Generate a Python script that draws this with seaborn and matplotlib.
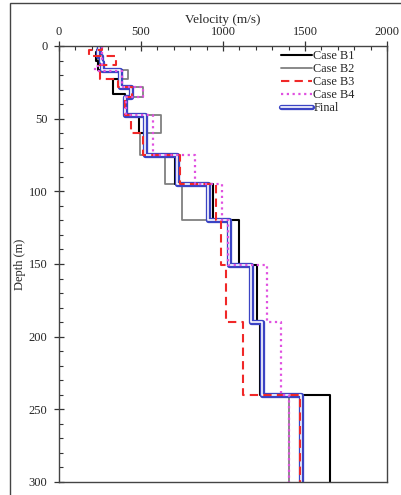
import numpy as np
import pandas as pd
import seaborn as sns
import matplotlib
matplotlib.use("Agg")
import matplotlib.pyplot as plt
import matplotlib.patheffects as pe
from matplotlib.patches import Rectangle
from matplotlib.ticker import MultipleLocator

# layer tops (m) and velocities (m/s); every profile ends at 300 m
max_depth = 300

b1_tops = [0, 4, 10, 16.5, 23, 33, 47.5, 60, 75, 95, 120, 151, 190, 240]
b1_vel = [240, 225, 240, 385, 330, 400, 490, 525, 710, 940, 1100, 1210, 1225, 1650]

b2_tops = [0, 4, 10, 16.5, 23, 28, 35, 47.5, 60, 75, 95, 120, 151, 190, 240]
b2_vel = [250, 240, 270, 420, 385, 510, 400, 625, 495, 645, 752, 1040, 1180, 1250, 1400]

b3_tops = [0, 3, 7, 13, 23, 28, 35, 47.5, 60, 75, 95, 120, 151, 190, 240]
b3_vel = [260, 180, 350, 250, 360, 445, 400, 440, 515, 740, 955, 985, 1020, 1120, 1470]

b4_tops = [0, 7, 14, 17, 28, 35, 47.5, 75, 95, 120, 151, 190, 240]
b4_vel = [260, 265, 220, 385, 515, 410, 575, 830, 995, 1030, 1268, 1355, 1400]

final_tops = [0, 3, 7, 11, 16.5, 28, 35, 47.5, 75, 95, 120, 151, 190, 240]
final_vel = [245, 235, 255, 265, 370, 440, 400, 525, 720, 910, 1035, 1170, 1235, 1475]


def staircase(tops, vel):
    bottoms = tops[1:] + [max_depth]
    x, y = [], []
    for t, b, v in zip(tops, bottoms, vel):
        x += [v, v]
        y += [t, b]
    return pd.DataFrame({"velocity": x, "depth": y})


sns.set_style("ticks")
plt.rcParams["font.family"] = ["Liberation Serif", "DejaVu Serif"]
plt.rcParams["font.size"] = 9

fig = plt.figure(figsize=(4.02, 4.95), dpi=100)
ax = fig.add_axes([59 / 402, 1 - 482 / 495, 328 / 402, 436 / 495])

blue = "#3b44c4"
kw = dict(x="velocity", y="depth", sort=False, estimator=None, ax=ax)

sns.lineplot(data=staircase(b2_tops, b2_vel), color="#808080", lw=1.3, label="Case B2", **kw)
sns.lineplot(data=staircase(b1_tops, b1_vel), color="black", lw=1.5, label="Case B1", **kw)
sns.lineplot(data=staircase(final_tops, final_vel), color="white", lw=1.2, label="Final",
             path_effects=[pe.Stroke(linewidth=3.8, foreground=blue), pe.Normal()], **kw)
sns.lineplot(data=staircase(b3_tops, b3_vel), color="#f02828", lw=1.5,
             linestyle=(0, (4, 2.5)), label="Case B3", **kw)
sns.lineplot(data=staircase(b4_tops, b4_vel), color="#e050e0", lw=1.6,
             linestyle=(0, (1, 1.6)), label="Case B4", **kw)

ax.set_xlim(0, 2000)
ax.set_ylim(300, 0)
ax.xaxis.tick_top()
ax.xaxis.set_label_position("top")
ax.set_xlabel("Velocity (m/s)", labelpad=2.5, fontsize=9.5)
ax.set_ylabel("Depth (m)", labelpad=2, fontsize=9)
ax.xaxis.set_major_locator(MultipleLocator(500))
ax.xaxis.set_minor_locator(MultipleLocator(100))
ax.yaxis.set_major_locator(MultipleLocator(50))
ax.yaxis.set_minor_locator(MultipleLocator(10))
ax.tick_params(which="major", direction="inout", length=6.5, width=0.9, color="#333333",
               labelsize=9)
ax.tick_params(which="minor", direction="in", length=3, width=0.8, color="#333333")
ax.tick_params(axis="x", which="both", bottom=False, top=True)
ax.tick_params(axis="x", which="major", pad=2.5)
ax.tick_params(axis="y", which="both", left=True, right=False)
ax.tick_params(axis="y", which="major", pad=5)
for s in ax.spines.values():
    s.set_color("#444444")
    s.set_linewidth(1.0)

handles, labels = ax.get_legend_handles_labels()
order = ["Case B1", "Case B2", "Case B3", "Case B4", "Final"]
hmap = dict(zip(labels, handles))
ax.legend([hmap[k] for k in order], order, loc="upper right",
          bbox_to_anchor=((355 - 59) / 328, 0.99), frameon=False,
          handlelength=2.5, handletextpad=0.15, labelspacing=0.08,
          borderaxespad=0, borderpad=0, fontsize=8.8)

# outer frame of the figure panel
fig.add_artist(Rectangle((10 / 402, -0.1), 2, 1.1 - 3 / 495, transform=fig.transFigure,
                         fill=False, lw=1.0, edgecolor="#444444", clip_on=False))

fig.savefig("out.png", dpi=100)
